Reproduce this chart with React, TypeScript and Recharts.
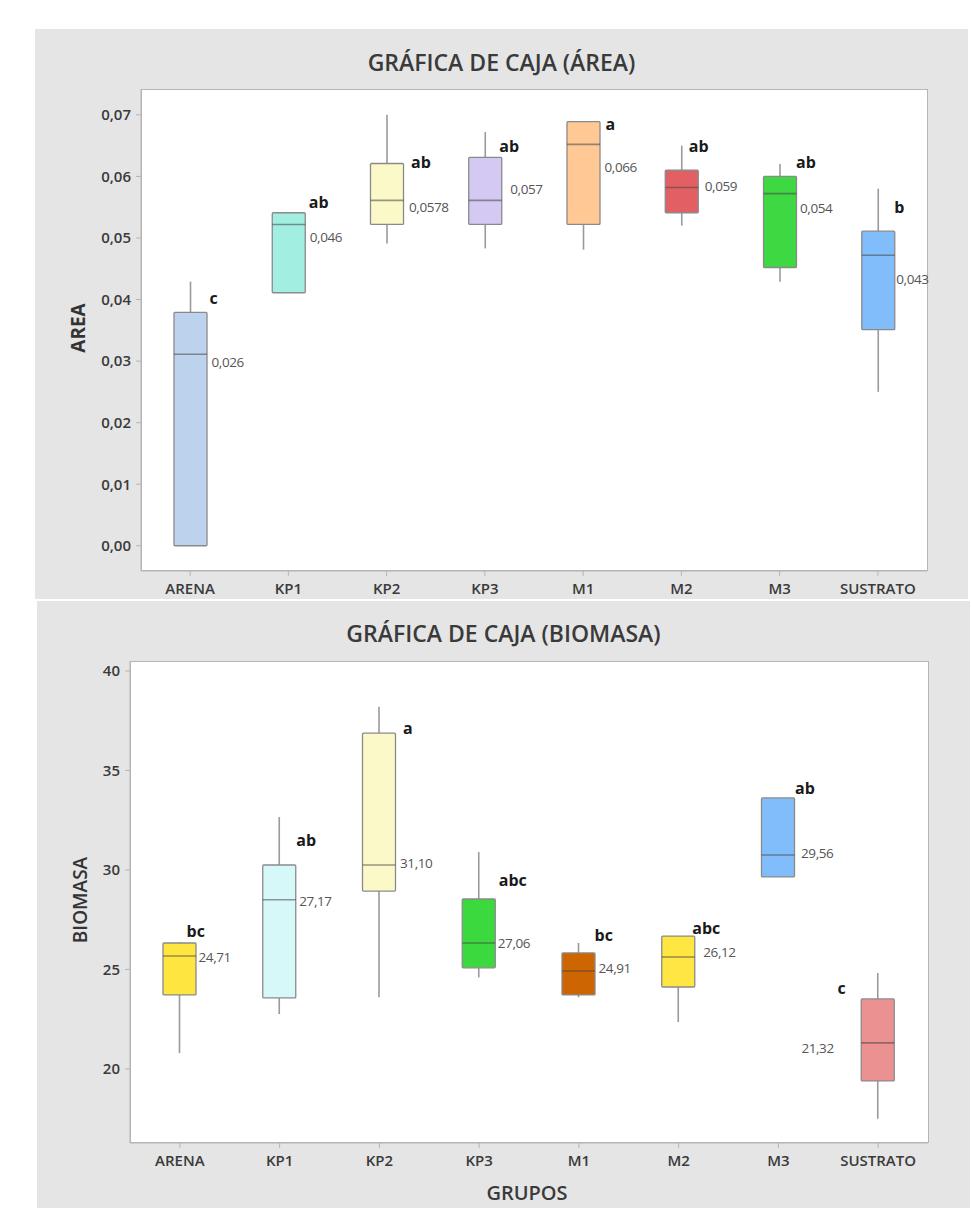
import React from "react";
import { ComposedChart, Bar, XAxis, YAxis } from "recharts";

const groups = ["ARENA", "KP1", "KP2", "KP3", "M1", "M2", "M3", "SUSTRATO"];

// ÁREA: five-number summaries
const areaMin = [0, 0.0411, 0.0491, 0.0483, 0.0481, 0.052, 0.0429, 0.025];
const areaQ1 = [0, 0.0411, 0.0522, 0.0522, 0.0522, 0.0541, 0.0452, 0.0351];
const areaMed = [0.0311, 0.0522, 0.0561, 0.0561, 0.0652, 0.0582, 0.0572, 0.0472];
const areaQ3 = [0.0379, 0.0541, 0.0621, 0.0631, 0.0689, 0.061, 0.06, 0.0511];
const areaMax = [0.0429, 0.0541, 0.07, 0.0672, 0.0689, 0.065, 0.062, 0.058];
const areaLetters = ["c", "ab", "ab", "ab", "a", "ab", "ab", "b"];
const areaLetterAt = [0.0402, 0.0558, 0.0624, 0.065, 0.0685, 0.0649, 0.0623, 0.055];
const areaMeans = ["0,026", "0,046", "0,0578", "0,057", "0,066", "0,059", "0,054", "0,043"];
const areaMeanAt = [0.0299, 0.0502, 0.0551, 0.0579, 0.0615, 0.0584, 0.0548, 0.0433];
const areaTicks = [0, 0.01, 0.02, 0.03, 0.04, 0.05, 0.06, 0.07];

// BIOMASA
const bioMin = [20.8, 22.76, 23.6, 24.6, 23.6, 22.36, 29.65, 17.5];
const bioQ1 = [23.72, 23.57, 28.94, 25.08, 23.72, 24.12, 29.65, 19.4];
const bioMed = [25.68, 28.5, 30.25, 26.33, 24.92, 25.63, 30.75, 21.31];
const bioQ3 = [26.33, 30.25, 36.88, 28.54, 25.83, 26.68, 33.62, 23.52];
const bioMax = [26.38, 32.66, 38.2, 30.9, 26.33, 26.68, 33.62, 24.82];
const bioLetters = ["bc", "ab", "a", "abc", "bc", "abc", "ab", "c"];
const bioLetterAt = [26.93, 31.5, 37.14, 29.5, 26.73, 27.09, 34.12, 24.07];
const bioMeans = ["24,71", "27,17", "31,10", "27,06", "24,91", "26,12", "29,56", "21,32"];
const bioMeanAt = [25.63, 28.44, 30.35, 26.33, 25.07, 25.88, 30.85, 21.06];
const bioTicks = [20, 25, 30, 35, 40];

// styles / layout
const areaColors = ["#bdd2ec", "#a2eee0", "#fbf9c8", "#d3c9f3", "#ffc894", "#e25f63", "#3ed842", "#82bdfb"];
const bioColors = ["#ffe53f", "#d7f8f8", "#fbf9c8", "#3bd83e", "#cd6501", "#ffe642", "#82bdfb", "#ec9191"];
const areaLetterDx = [19, 20, 24, 14, 22, 7, 16, 16];
const areaMeanDx = [21, 21, 22, 25, 21, 23, 20, 18];
const bioLetterDx = [7, 17, 24, 20, 16, 14, 17, -32];
const bioMeanDx = [19, 20, 21, 19, 20, 25, 23, -44];

const FONT = '"Open Sans", "Noto Sans", sans-serif';
const AXIS = "#b5b5b5";

type Row = {
  group: string;
  min: number;
  q1: number;
  med: number;
  q3: number;
  max: number;
  letter: string;
  letterAt: number;
  mean: string;
  meanAt: number;
};

function buildRows(
  mins: number[], q1s: number[], meds: number[], q3s: number[], maxs: number[],
  letters: string[], letterAt: number[], means: string[], meanAt: number[]
): Row[] {
  return groups.map((g, i) => ({
    group: g, min: mins[i], q1: q1s[i], med: meds[i], q3: q3s[i], max: maxs[i],
    letter: letters[i], letterAt: letterAt[i], mean: means[i], meanAt: meanAt[i],
  }));
}

const areaRows = buildRows(areaMin, areaQ1, areaMed, areaQ3, areaMax, areaLetters, areaLetterAt, areaMeans, areaMeanAt);
const bioRows = buildRows(bioMin, bioQ1, bioMed, bioQ3, bioMax, bioLetters, bioLetterAt, bioMeans, bioMeanAt);

function boxShape(colors: string[], letterDx: number[], meanDx: number[]) {
  return (props: any) => {
    const { x, y, width, height, payload } = props;
    const d = payload as Row;
    const i = groups.indexOf(d.group);
    const top = Math.min(y, y + height);
    const bottom = Math.max(y, y + height);
    // bar spans [min, max] on the chart's y scale; map the inner values linearly
    const py = (v: number) => bottom - ((v - d.min) / (d.max - d.min)) * (bottom - top);
    const cx = x + width / 2;
    const lDx = letterDx[i];
    const mDx = meanDx[i];
    return (
      <g>
        {d.max > d.q3 && <line x1={cx} x2={cx} y1={py(d.max)} y2={py(d.q3)} stroke="#9a9a9a" strokeWidth={1.6} />}
        {d.min < d.q1 && <line x1={cx} x2={cx} y1={py(d.q1)} y2={py(d.min)} stroke="#9a9a9a" strokeWidth={1.6} />}
        <rect x={x} y={py(d.q3)} width={width} height={py(d.q1) - py(d.q3)} fill={colors[i]} stroke="#8a8a8a" strokeWidth={1.3} rx={1} />
        <line x1={x} x2={x + width} y1={py(d.med)} y2={py(d.med)} stroke="rgba(70,70,70,0.55)" strokeWidth={1.6} />
        <text
          x={cx + lDx} y={py(d.letterAt)} dominantBaseline="central"
          textAnchor={lDx < 0 ? "end" : "start"}
          fontFamily={FONT} fontSize={16} fontWeight={700} fill="#1a1a1a"
        >{d.letter}</text>
        <text
          x={cx + mDx} y={py(d.meanAt)} dominantBaseline="central"
          textAnchor={mDx < 0 ? "end" : "start"}
          fontFamily={FONT} fontSize={13.5} fill="#555" letterSpacing={-0.4}
        >{d.mean}</text>
      </g>
    );
  };
}

type PanelProps = {
  rows: Row[];
  colors: string[];
  letterDx: number[];
  meanDx: number[];
  domain: [number, number];
  ticks: number[];
  fmtTick: (v: number) => string;
  title: string;
  titleY: number;
  yLabel: string;
  yLabelWeight: number;
  yLabelPos: [number, number];
  xLabel?: string;
  xLabelPos?: [number, number];
  box: { left: number; top: number; width: number; height: number };
  plot: { left: number; top: number; right: number; bottom: number };
};

const Y_AXIS_W = 80;

function BoxPanel(p: PanelProps) {
  const { box, plot } = p;
  const plotW = box.width - plot.left - plot.right;
  const plotH = box.height - plot.top - plot.bottom;
  const tickStyle = { fill: "#3a3a3a", fontSize: 15, fontWeight: 600, fontFamily: FONT };
  return (
    <div style={{ position: "absolute", left: box.left, top: box.top, width: box.width, height: box.height, background: "#e5e5e5" }}>
      <div style={{ position: "absolute", left: 0, width: box.width, top: p.titleY - 15, lineHeight: "30px", textAlign: "center", fontFamily: FONT, fontSize: 23, fontWeight: 600, color: "#3a3a3a" }}>
        {p.title}
      </div>
      <div style={{ position: "absolute", left: plot.left, top: plot.top, width: plotW + 1, height: plotH, background: "#fff", border: `1px solid ${AXIS}`, boxSizing: "border-box" }} />
      <div style={{ position: "absolute", left: p.yLabelPos[0], top: p.yLabelPos[1], transform: "translate(-50%, -50%) rotate(-90deg)", whiteSpace: "nowrap", fontFamily: FONT, fontSize: 19, fontWeight: p.yLabelWeight, color: "#333" }}>
        {p.yLabel}
      </div>
      {p.xLabel && p.xLabelPos && (
        <div style={{ position: "absolute", left: p.xLabelPos[0], top: p.xLabelPos[1], transform: "translate(-50%, -50%)", whiteSpace: "nowrap", fontFamily: FONT, fontSize: 20, fontWeight: 600, color: "#3a3a3a" }}>
          {p.xLabel}
        </div>
      )}
      <div style={{ position: "absolute", left: 0, top: 0 }}>
        <ComposedChart
          width={box.width}
          height={box.height}
          data={p.rows}
          margin={{ top: plot.top, right: plot.right, bottom: 0, left: plot.left - Y_AXIS_W }}
        >
          <XAxis
            dataKey="group"
            type="category"
            interval={0}
            height={plot.bottom}
            tickSize={5}
            tickMargin={7}
            tick={tickStyle}
            axisLine={{ stroke: AXIS }}
            tickLine={{ stroke: AXIS }}
          />
          <YAxis
            type="number"
            domain={p.domain}
            ticks={p.ticks}
            allowDataOverflow
            width={Y_AXIS_W}
            tickSize={5}
            tickMargin={5}
            tickFormatter={p.fmtTick}
            tick={tickStyle}
            axisLine={{ stroke: AXIS }}
            tickLine={{ stroke: AXIS }}
          />
          <Bar
            dataKey={(d: Row) => [d.min, d.max]}
            barSize={33}
            isAnimationActive={false}
            shape={boxShape(p.colors, p.letterDx, p.meanDx)}
          />
        </ComposedChart>
      </div>
    </div>
  );
}

export default function App() {
  return (
    <div style={{ position: "absolute", left: 0, top: 0, width: 971, height: 1208, background: "#fff" }}>
      <BoxPanel
        rows={areaRows}
        colors={areaColors}
        letterDx={areaLetterDx}
        meanDx={areaMeanDx}
        domain={[-0.0041, 0.0742]}
        ticks={areaTicks}
        fmtTick={(v) => v.toFixed(2).replace(".", ",")}
        title="GRÁFICA DE CAJA (ÁREA)"
        titleY={33}
        yLabel="AREA"
        yLabelWeight={700}
        yLabelPos={[43, 299]}
        box={{ left: 35, top: 29, width: 933, height: 570 }}
        plot={{ left: 106, top: 60, right: 41, bottom: 28 }}
      />
      <BoxPanel
        rows={bioRows}
        colors={bioColors}
        letterDx={bioLetterDx}
        meanDx={bioMeanDx}
        domain={[16.28, 40.5]}
        ticks={bioTicks}
        fmtTick={(v) => String(v)}
        title="GRÁFICA DE CAJA (BIOMASA)"
        titleY={32}
        yLabel="BIOMASA"
        yLabelWeight={600}
        yLabelPos={[43, 299]}
        xLabel="GRUPOS"
        xLabelPos={[490, 591]}
        box={{ left: 37, top: 601, width: 933, height: 607 }}
        plot={{ left: 93, top: 60, right: 42, bottom: 65 }}
      />
    </div>
  );
}
